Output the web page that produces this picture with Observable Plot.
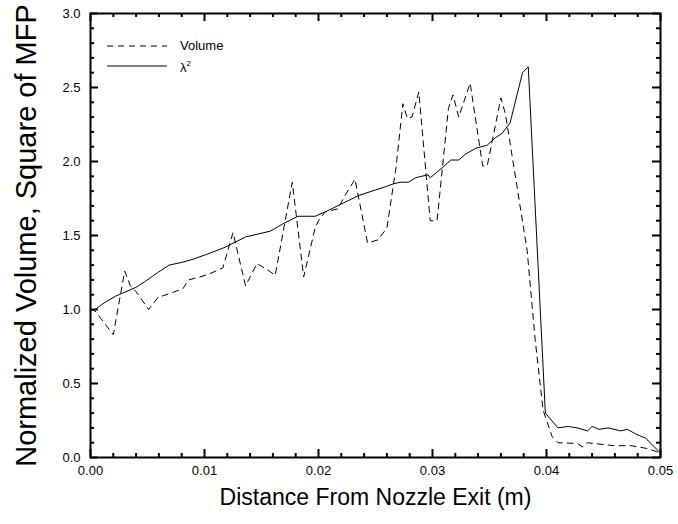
<!DOCTYPE html>
<html>
<head>
<meta charset="utf-8">
<script src="https://cdn.jsdelivr.net/npm/d3@7"></script>
<script src="https://cdn.jsdelivr.net/npm/@observablehq/plot@0.6"></script>
<style>
  body { margin: 0; background: #fff; font-family: "Liberation Sans", Arial, sans-serif; }
  #wrap { position: relative; width: 678px; height: 524px; }
  #legend { position: absolute; left: 106px; top: 36px; font-size: 13px; color: #000; line-height: 20px; }
  #legend .row { display: flex; align-items: center; height: 20px; }
  #legend svg { margin-right: 12px; }
  sup { font-size: 8px; vertical-align: 6px; }
</style>
</head>
<body>
<div id="wrap"><div id="legend"></div></div>
<script>
// Volume (dashed)
const volX = [0.0000,0.0004,0.0010,0.0020,0.0030,0.0035,0.0040,0.0051,0.0059,0.0070,0.0081,0.0086,0.0096,0.0104,0.0116,0.0125,0.0136,0.0146,0.0155,0.0162,0.0177,0.0187,0.0197,0.0200,0.0206,0.0217,0.0224,0.0232,0.0243,0.0252,0.0260,0.0268,0.0274,0.0278,0.0282,0.0288,0.0298,0.0304,0.0314,0.0318,0.0323,0.0333,0.0344,0.0348,0.0360,0.0364,0.0383,0.0390,0.0397,0.0405,0.0410,0.0427,0.0432,0.0436,0.0441,0.0459,0.0474,0.0489,0.0500];
const volY = [1.00,0.99,0.93,0.83,1.26,1.16,1.12,1.00,1.08,1.11,1.14,1.20,1.22,1.24,1.28,1.52,1.16,1.31,1.27,1.23,1.86,1.22,1.55,1.60,1.66,1.68,1.78,1.88,1.45,1.47,1.55,1.96,2.39,2.29,2.30,2.47,1.60,1.60,2.36,2.45,2.30,2.53,1.97,1.97,2.43,2.32,1.40,0.80,0.32,0.14,0.10,0.095,0.07,0.10,0.095,0.08,0.08,0.06,0.03];
// lambda^2 (solid)
const lamX = [0.0000,0.0004,0.0013,0.0022,0.0028,0.0040,0.0048,0.0059,0.0069,0.0081,0.0090,0.0101,0.0118,0.0136,0.0158,0.0169,0.0182,0.0197,0.0206,0.0222,0.0235,0.0247,0.0259,0.0266,0.0272,0.0279,0.0285,0.0296,0.0298,0.0309,0.0316,0.0323,0.0329,0.0338,0.0348,0.0355,0.0361,0.0368,0.0379,0.0384,0.0399,0.0410,0.0419,0.0427,0.0436,0.0440,0.0446,0.0454,0.0465,0.0471,0.0478,0.0487,0.0500];
const lamY = [1.00,1.00,1.05,1.09,1.11,1.15,1.19,1.25,1.30,1.32,1.34,1.37,1.42,1.49,1.53,1.58,1.63,1.63,1.66,1.72,1.77,1.80,1.83,1.85,1.86,1.86,1.89,1.91,1.89,1.96,2.01,2.01,2.05,2.09,2.11,2.16,2.19,2.26,2.60,2.64,0.30,0.20,0.21,0.20,0.18,0.21,0.19,0.20,0.18,0.19,0.16,0.13,0.03];

const xMajor = [0, 0.01, 0.02, 0.03, 0.04, 0.05];
const xMinor = d3.range(0, 25).map(i => i * 0.002).filter(v => Math.abs(v / 0.01 - Math.round(v / 0.01)) > 1e-6);
const yMajor = [0, 0.5, 1.0, 1.5, 2.0, 2.5, 3.0];
const yMinor = d3.range(0, 31).map(i => i / 10).filter(v => Math.abs(v * 2 - Math.round(v * 2)) > 1e-6);

const xLabel = "Distance From Nozzle Exit (m)";
const yLabel = "Normalized Volume, Square of MFP";

const vol = volX.map((x, i) => ({x, y: volY[i]}));
const lam = lamX.map((x, i) => ({x, y: lamY[i]}));

const W = 678, H = 524, mL = 90, mR = 18, mT = 13, mB = 67;
const plotW = W - mL - mR, plotH = H - mT - mB;
const MAJ = 8, MIN = 4;

const font = "'Liberation Sans', Arial, sans-serif";
const tickStyle = {stroke: "#000", strokeWidth: 2};

const chart = Plot.plot({
  width: W, height: H, marginLeft: mL, marginRight: mR, marginTop: mT, marginBottom: mB,
  style: {fontFamily: font, fontSize: "13px", color: "#000", background: "#fff"},
  x: {domain: [0, 0.05]},
  y: {domain: [0, 3]},
  marks: [
    // inward ticks on all four sides
    Plot.ruleX(xMajor, {x: d => d, insetTop: plotH - MAJ, ...tickStyle}),
    Plot.ruleX(xMinor, {x: d => d, insetTop: plotH - MIN, ...tickStyle}),
    Plot.ruleX(xMajor, {x: d => d, insetBottom: plotH - MAJ, ...tickStyle}),
    Plot.ruleX(xMinor, {x: d => d, insetBottom: plotH - MIN, ...tickStyle}),
    Plot.ruleY(yMajor, {y: d => d, insetRight: plotW - MAJ, ...tickStyle}),
    Plot.ruleY(yMinor, {y: d => d, insetRight: plotW - MIN, ...tickStyle}),
    Plot.ruleY(yMajor, {y: d => d, insetLeft: plotW - MAJ, ...tickStyle}),
    Plot.ruleY(yMinor, {y: d => d, insetLeft: plotW - MIN, ...tickStyle}),
    // tick labels
    Plot.axisX({anchor: "bottom", ticks: xMajor, tickSize: 0, tickPadding: 8, tickFormat: d3.format(".2f"), label: null, fontSize: 13}),
    Plot.axisY({anchor: "left", ticks: yMajor, tickSize: 0, tickPadding: 10, tickFormat: d3.format(".1f"), label: null, fontSize: 13}),
    // axis titles
    Plot.text([xLabel], {text: d => d, frameAnchor: "bottom", textAnchor: "middle", dy: 47, fontSize: 23}),
    Plot.text([yLabel], {text: d => d, frameAnchor: "left", textAnchor: "middle", rotate: -90, dx: -64, fontSize: 29}),
    // data
    Plot.line(vol, {x: "x", y: "y", stroke: "#000", strokeWidth: 1, strokeDasharray: "6,5"}),
    Plot.line(lam, {x: "x", y: "y", stroke: "#000", strokeWidth: 1}),
    Plot.frame({stroke: "#000", strokeWidth: 2})
  ]
});

const wrap = document.getElementById("wrap");
wrap.insertBefore(chart, wrap.firstChild);

// legend
const legend = document.getElementById("legend");
[["6,5", "Volume"], [null, "λ<sup>2</sup>"]].forEach(([dash, label]) => {
  const row = document.createElement("div");
  row.className = "row";
  row.innerHTML = `<svg width="62" height="4"><line x1="1" y1="2" x2="61" y2="2" stroke="#000" stroke-width="1" ${dash ? `stroke-dasharray="${dash}"` : ""}/></svg><span>${label}</span>`;
  legend.appendChild(row);
});
</script>
</body>
</html>
